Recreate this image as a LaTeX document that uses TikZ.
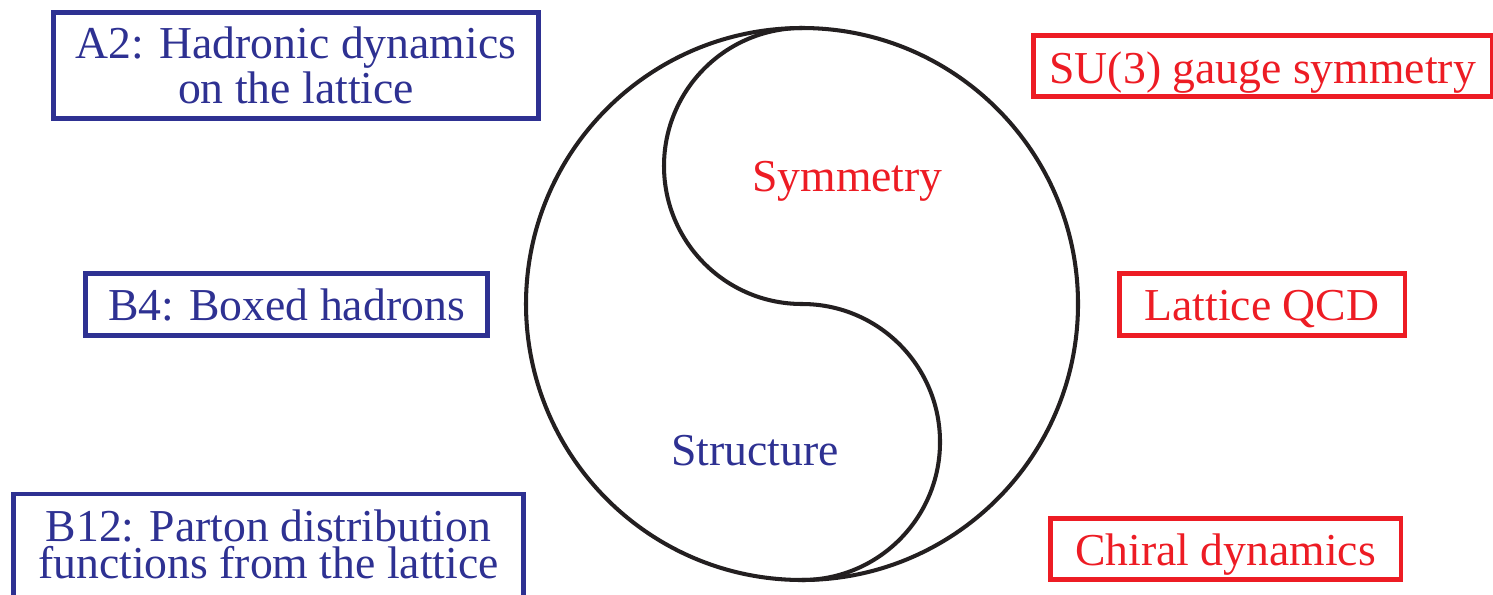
\documentclass[tikz,border=0pt]{standalone}
\usepackage{fontspec}
\setmainfont{Liberation Serif}
\usepackage{xcolor}
\usepackage{tikz}
\usetikzlibrary{positioning}

\definecolor{boxblue}{HTML}{2E3192}
\definecolor{boxred}{HTML}{ED1C24}
\definecolor{ink}{HTML}{231F20}

\tikzset{
  topic/.style={draw, line width=1.15pt, inner sep=0pt, align=center,
    font=\fontsize{13}{10.7}\selectfont},
  oneline/.style={text height=11.6pt, text depth=2.5pt},
  bluebox/.style={topic, draw=boxblue, text=boxblue},
  redbox/.style={topic, oneline, draw=boxred, text=boxred},
  taiji/.style={ink, line width=1.15pt},
  inside/.style={anchor=base, font=\fontsize{13}{15}\selectfont}
}

\begin{document}
\begin{tikzpicture}
  \useasboundingbox (0,0) rectangle (14.93,5.94);
  % yin-yang: outer circle and the S line
  \draw[taiji] (8.02,2.90) circle (2.76);
  \draw[taiji] (8.02,5.66) arc (90:270:1.38) arc (90:-90:1.38);
  \node[inside, text=boxred]  (sym)   at (8.475,4.03) {Symmetry};
  \node[inside, text=boxblue] (struc) at (7.55,1.29)  {Structure};
  % structure topics (left)
  \node[bluebox, minimum width=4.85cm, minimum height=1.06cm] (a2) at (2.96,5.285)
    {A2: Hadronic dynamics\\on the lattice};
  \node[bluebox, oneline, minimum width=4.02cm, minimum height=0.62cm] (b4) at (2.865,2.895)
    {B4: Boxed hadrons};
  \node[bluebox, minimum width=5.1cm, inner ysep=0.16cm, text depth=15pt, anchor=north] (b12) at (2.685,1.025)
    {B12: Parton distribution\\functions from the lattice};
  % symmetry topics (right)
  \node[redbox, text height=12.6pt, minimum width=4.585cm, minimum height=0.61cm] (su3) at (12.6275,5.28)
    {SU(3) gauge symmetry};
  \node[redbox, minimum width=2.85cm, minimum height=0.62cm] (lqcd) at (12.62,2.895)
    {Lattice QCD};
  \node[redbox, minimum width=3.5cm, minimum height=0.61cm] (chiral) at (12.255,0.45)
    {Chiral dynamics};
\end{tikzpicture}
\end{document}
